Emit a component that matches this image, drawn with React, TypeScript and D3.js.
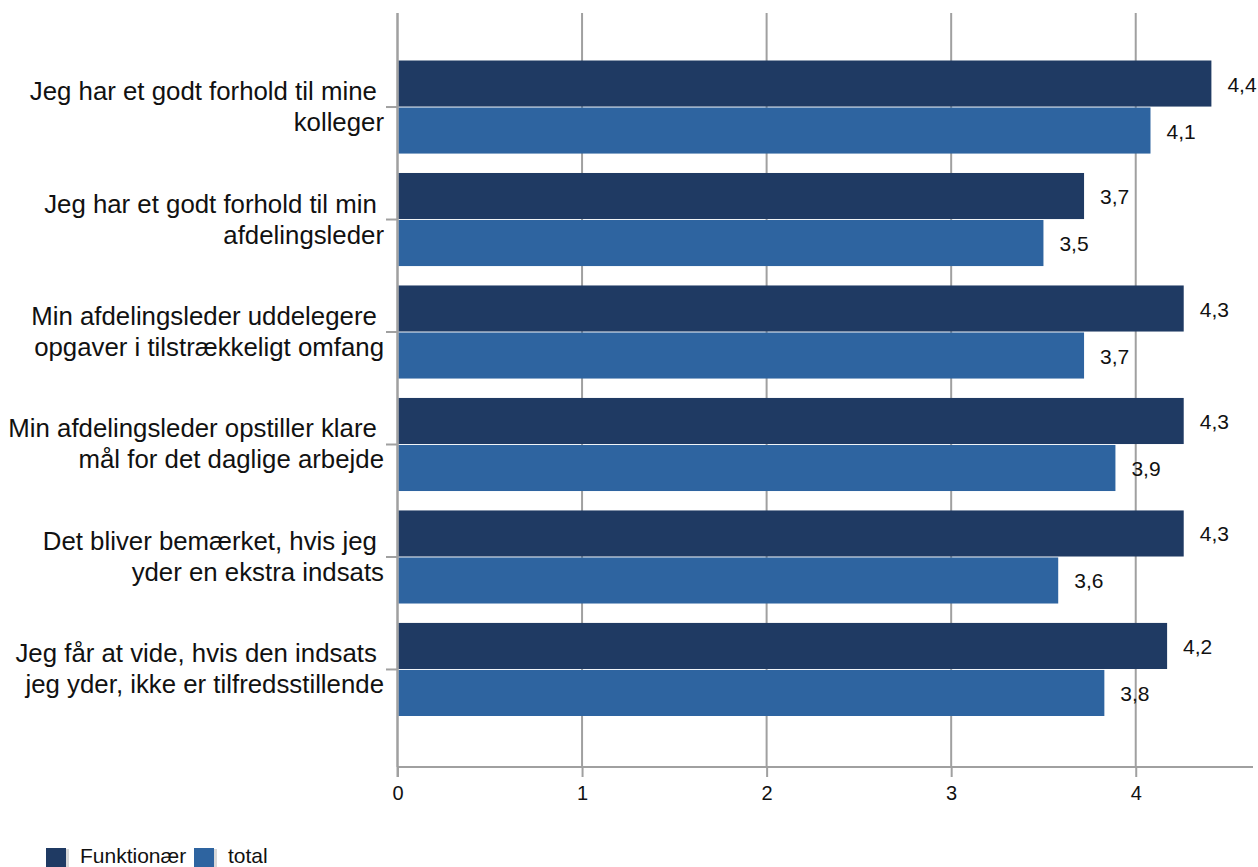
import React, { useRef, useEffect } from 'react';
import * as d3 from 'd3';

// statements (each split in two lines as in the original layout)
const categories = [
  ['Jeg har et godt forhold til mine ', 'kolleger'],
  ['Jeg har et godt forhold til min ', 'afdelingsleder'],
  ['Min afdelingsleder uddelegere ', 'opgaver i tilstrækkeligt omfang'],
  ['Min afdelingsleder opstiller klare ', 'mål for det daglige arbejde'],
  ['Det bliver bemærket, hvis jeg ', 'yder en ekstra indsats'],
  ['Jeg får at vide, hvis den indsats ', 'jeg yder, ikke er tilfredsstillende'],
];
const seriesNames = ['Funktionær', 'total'];
const funktionaer = [4.41, 3.72, 4.26, 4.26, 4.26, 4.17];
const total = [4.08, 3.5, 3.72, 3.89, 3.58, 3.83];
const xTicks = [0, 1, 2, 3, 4];

const COLORS = ['#1f3a63', '#2e64a0'];
const W = 1258;
const H = 867;
const FONT = '"Liberation Sans", Arial, sans-serif';

export default function App() {
  const svgRef = useRef<SVGSVGElement>(null);

  useEffect(() => {
    if (!svgRef.current) return;
    const svg = d3.select(svgRef.current);
    svg.selectAll('*').remove();

    const left = 397.5;
    const plotTop = 13;
    const plotBottom = 767;
    const x = d3.scaleLinear().domain([0, 4.63]).range([left, 1252]);
    const keys = categories.map((_, i) => String(i));
    const y = d3.scaleBand().domain(keys).range([60.5, 716]).paddingInner(0.1726).paddingOuter(0);
    const ySub = d3.scaleBand().domain(seriesNames).range([0, y.bandwidth()]).paddingInner(0.02);
    const series = [funktionaer, total];

    // vertical gridlines
    svg.append('g').selectAll('line').data(xTicks).join('line')
      .attr('x1', d => x(d)).attr('x2', d => x(d))
      .attr('y1', plotTop).attr('y2', plotBottom)
      .attr('stroke', '#a0a0a0').attr('stroke-width', 2);

    // bars + value labels
    series.forEach((vals, si) => {
      svg.append('g').selectAll('rect').data(vals).join('rect')
        .attr('x', x(0) + 1)
        .attr('y', (_, i) => (y(keys[i]) || 0) + (ySub(seriesNames[si]) || 0))
        .attr('width', d => x(d) - x(0) - 1)
        .attr('height', ySub.bandwidth())
        .attr('fill', COLORS[si]);

      svg.append('g').selectAll('text').data(vals).join('text')
        .attr('x', d => x(d) + 16)
        .attr('y', (_, i) => (y(keys[i]) || 0) + (ySub(seriesNames[si]) || 0) + ySub.bandwidth() / 2 + 8)
        .style('font-family', FONT).style('font-size', '21px').style('fill', '#111')
        .text(d => d3.format('.1f')(d).replace('.', ','));
    });

    // bottom axis
    const xa = svg.append('g').attr('transform', `translate(0,${plotBottom})`)
      .call(d3.axisBottom(x).tickValues(xTicks).tickSize(10).tickPadding(9).tickFormat(d3.format('d')))
      .attr('font-size', 20).attr('font-family', FONT);
    xa.select('.domain').attr('stroke', '#a0a0a0').attr('stroke-width', 2)
      .attr('d', `M${x(0)},0H1253`);
    xa.selectAll('.tick line').attr('stroke', '#a0a0a0').attr('stroke-width', 2);
    xa.selectAll('.tick text').attr('fill', '#111');

    // left axis line and ticks
    svg.append('line').attr('x1', x(0)).attr('x2', x(0)).attr('y1', plotTop).attr('y2', plotBottom + 10)
      .attr('stroke', '#a0a0a0').attr('stroke-width', 2);
    const yc = (i: number) => (y(keys[i]) || 0) + y.bandwidth() / 2;
    svg.append('g').selectAll('line').data(categories).join('line')
      .attr('x1', 386).attr('x2', x(0))
      .attr('y1', (_, i) => yc(i)).attr('y2', (_, i) => yc(i))
      .attr('stroke', '#a0a0a0').attr('stroke-width', 2);

    // category labels
    const lab = svg.append('g').selectAll('text').data(categories).join('text')
      .attr('text-anchor', 'end')
      .style('font-family', FONT).style('font-size', '25.8px').style('fill', '#111')
      .style('white-space', 'pre');
    lab.each(function (d, i) {
      const t = d3.select(this);
      d.forEach((line, li) => {
        t.append('tspan').attr('x', 384).attr('y', yc(i) - 7 + li * 31).text(line);
      });
    });

    // legend
    const lg = svg.append('g');
    const legendX = [46, 194];
    seriesNames.forEach((name, i) => {
      lg.append('rect').attr('x', legendX[i] + 3).attr('y', 849).attr('width', 20).attr('height', 20).attr('fill', '#d8d8d8');
      lg.append('rect').attr('x', legendX[i]).attr('y', 848).attr('width', 20).attr('height', 20).attr('fill', COLORS[i]);
      lg.append('text').attr('x', legendX[i] + 34).attr('y', 863)
        .style('font-family', FONT).style('font-size', '21px').style('fill', '#111')
        .text(name);
    });
  }, []);

  return (
    <svg ref={svgRef} width={W} height={H}
      style={{ position: 'absolute', left: 0, top: 0, background: '#fff' }} />
  );
}
